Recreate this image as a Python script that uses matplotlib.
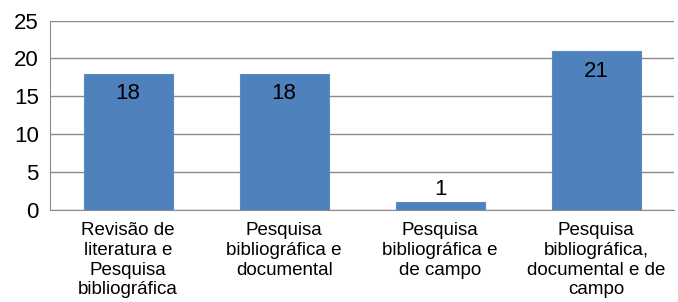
import matplotlib.pyplot as plt

plt.rcParams['font.family'] = ['Liberation Sans', 'DejaVu Sans']

categories = [
    "Revisão de\nliteratura e\nPesquisa\nbibliográfica",
    "Pesquisa\nbibliográfica e\ndocumental",
    "Pesquisa\nbibliográfica e\nde campo",
    "Pesquisa\nbibliográfica,\ndocumental e de\ncampo",
]
values = [18, 18, 1, 21]
yticks = [0, 5, 10, 15, 20, 25]

fig = plt.figure(figsize=(6.78, 3.02), dpi=100)
ax = fig.add_axes([0.0737, 0.305, 0.921, 0.627])

x = range(len(values))
bars = ax.bar(x, values, width=0.57, color='#4F81BD', edgecolor='#5B8CC8', linewidth=0.8, zorder=3)
for b, v in zip(bars, values):
    cx = b.get_x() + b.get_width() / 2
    if v >= 3:
        ax.text(cx, v - 1.3, str(v), ha='center', va='top', fontsize=16, zorder=4)
    else:
        ax.text(cx, v + 0.3, str(v), ha='center', va='bottom', fontsize=16, zorder=4)

ax.set_xlim(-0.5, len(values) - 0.5)
ax.set_ylim(0, 25)
ax.set_yticks(yticks)
ax.tick_params(axis='y', labelsize=16, length=0, pad=8)
ax.set_xticks(list(x))
ax.set_xticklabels(categories, fontsize=13.5, linespacing=1.2)
ax.tick_params(axis='x', length=0, pad=9)
ax.grid(axis='y', color='#8C8C8C', linewidth=1.0, zorder=0)
for s in ['top', 'right']:
    ax.spines[s].set_visible(False)
ax.spines['left'].set_color('#8C8C8C')
ax.spines['bottom'].set_color('#8C8C8C')

fig.savefig('out.png', dpi=100)
